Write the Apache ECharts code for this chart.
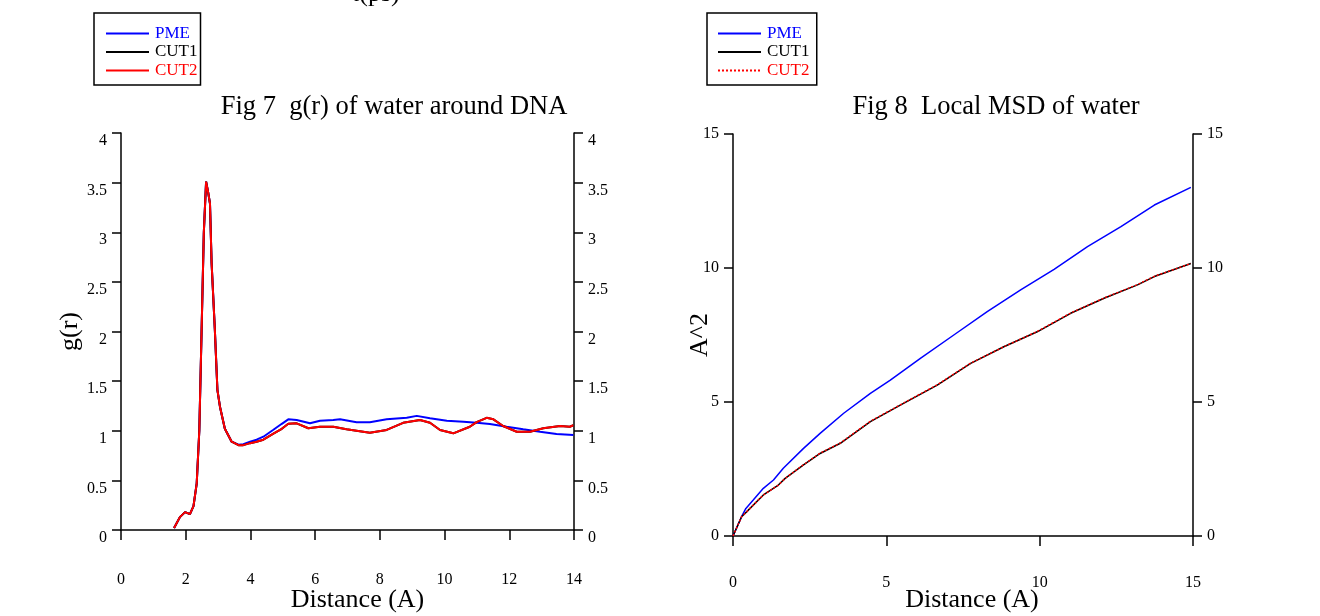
<!DOCTYPE html>
<html>
<head>
<meta charset="utf-8">
<script src="https://cdn.jsdelivr.net/npm/echarts@6/dist/echarts.min.js"></script>
<style>
html,body{margin:0;padding:0;background:#fff;}
#chart{width:1320px;height:616px;}
</style>
</head>
<body>
<div id="chart"></div>
<script>
// ---------- Fig 7 : g(r) of water around DNA ----------
const grPmeX  = [1.64,1.82,1.98,2.13,2.24,2.34,2.42,2.49,2.56,2.63,2.70,2.75,2.80,2.90,2.98,3.06,3.21,3.42,3.63,3.78,3.99,4.19,4.40,4.71,4.97,5.17,5.43,5.84,6.15,6.56,6.77,7.28,7.69,8.21,8.83,9.14,9.55,10.07,10.58,10.99,11.40,11.92,12.43,12.95,13.46,13.98];
const grPmeY  = [0.02,0.13,0.18,0.16,0.24,0.47,1.00,2.00,3.00,3.51,3.39,3.29,2.69,2.02,1.41,1.24,1.02,0.89,0.86,0.865,0.89,0.91,0.94,1.01,1.07,1.115,1.108,1.075,1.10,1.108,1.115,1.085,1.085,1.115,1.13,1.15,1.125,1.10,1.09,1.08,1.068,1.04,1.015,0.99,0.967,0.957];
const grCut1X = [1.64,1.82,1.98,2.13,2.24,2.34,2.42,2.49,2.56,2.63,2.70,2.75,2.80,2.90,2.98,3.06,3.21,3.42,3.63,3.78,3.99,4.19,4.40,4.71,4.97,5.17,5.43,5.79,6.15,6.56,6.97,7.69,8.21,8.72,9.24,9.55,9.86,10.27,10.78,10.99,11.30,11.51,11.81,12.23,12.64,13.05,13.57,13.87,13.98];
const grCut1Y = [0.02,0.13,0.18,0.16,0.24,0.47,1.00,2.00,3.00,3.51,3.39,3.29,2.69,2.02,1.41,1.24,1.02,0.89,0.855,0.855,0.875,0.89,0.91,0.97,1.02,1.07,1.075,1.025,1.04,1.04,1.015,0.98,1.008,1.08,1.108,1.08,1.008,0.974,1.04,1.087,1.13,1.115,1.048,0.99,0.99,1.025,1.048,1.04,1.055];
const grCut2X = [1.64,1.82,1.98,2.13,2.24,2.34,2.42,2.49,2.56,2.63,2.70,2.75,2.80,2.90,2.98,3.06,3.21,3.42,3.63,3.78,3.99,4.19,4.40,4.71,4.97,5.17,5.43,5.79,6.15,6.56,6.97,7.69,8.21,8.72,9.24,9.55,9.86,10.27,10.78,10.99,11.30,11.51,11.81,12.23,12.64,13.05,13.57,13.87,13.98];
const grCut2Y = [0.02,0.13,0.18,0.16,0.24,0.47,1.00,2.00,3.00,3.51,3.39,3.29,2.69,2.02,1.41,1.24,1.02,0.89,0.855,0.855,0.875,0.89,0.91,0.97,1.02,1.07,1.075,1.025,1.04,1.04,1.015,0.98,1.008,1.08,1.108,1.08,1.008,0.974,1.04,1.087,1.13,1.115,1.048,0.99,0.99,1.025,1.048,1.04,1.055];

// ---------- Fig 8 : Local MSD of water ----------
const msdPmeX  = [0,0.28,0.42,0.66,0.99,1.32,1.64,2.30,2.84,3.61,4.48,5.13,6.11,7.20,8.29,9.38,10.47,11.56,12.65,13.74,14.93];
const msdPmeY  = [0,0.72,1.03,1.34,1.78,2.09,2.53,3.27,3.83,4.58,5.32,5.82,6.63,7.50,8.37,9.18,9.95,10.80,11.54,12.35,13.01];
const msdCut1X = [0,0.28,0.45,0.99,1.48,1.70,2.30,2.84,3.50,4.48,5.56,6.66,7.75,8.83,9.92,11.01,12.10,13.19,13.74,14.93];
const msdCut1Y = [0,0.72,0.91,1.53,1.90,2.15,2.65,3.08,3.46,4.27,4.95,5.63,6.44,7.06,7.62,8.31,8.87,9.37,9.68,10.17];
const msdCut2X = [0,0.28,0.45,0.99,1.48,1.70,2.30,2.84,3.50,4.48,5.56,6.66,7.75,8.83,9.92,11.01,12.10,13.19,13.74,14.93];
const msdCut2Y = [0,0.72,0.91,1.53,1.90,2.15,2.66,3.09,3.47,4.28,4.96,5.64,6.45,7.06,7.63,8.32,8.88,9.38,9.69,10.17];

// tick settings
const grXTicks  = {min:0, max:14, interval:2};
const grYTicks  = {min:0, max:4, interval:0.5};
const msdXTicks = {min:0, max:15, interval:5};
const msdYTicks = {min:0, max:15, interval:5};

const zip = (xs, ys) => xs.map((x, i) => [x, ys[i]]);
const FONT = 'Liberation Serif';

const chart = echarts.init(document.getElementById('chart'), null, {renderer:'canvas'});

function xAxisCfg(grid, t, name, gap, margin, nameShift){
  return {
    type:'value', gridIndex:grid, min:t.min, max:t.max, interval:t.interval,
    name:name, nameLocation:'middle', nameGap:gap, nameMoveOverlap:false,
    nameTextStyle:{fontFamily:FONT, fontSize:26, color:'#000', padding:[0,0,0,nameShift]},
    axisLine:{show:true, onZero:false, lineStyle:{color:'#000', width:1.5}},
    axisTick:{show:true, inside:false, length:10, lineStyle:{color:'#000', width:1.5}},
    axisLabel:{fontFamily:FONT, fontSize:16, color:'#000', margin:margin},
    splitLine:{show:false}
  };
}
function yAxisCfg(grid, t, pos, name, gap, vAlign){
  return {
    type:'value', gridIndex:grid, position:pos, min:t.min, max:t.max, interval:t.interval,
    name:name, nameLocation:'middle', nameGap:gap, nameRotate:90, nameMoveOverlap:false,
    nameTextStyle:{fontFamily:FONT, fontSize:26, color:'#000'},
    axisLine:{show:true, onZero:false, lineStyle:{color:'#000', width:1.5}},
    axisTick:{show:true, inside:false, length:9, lineStyle:{color:'#000', width:1.5}},
    axisLabel:{fontFamily:FONT, fontSize:16, color:'#000', margin:14, verticalAlign:vAlign},
    splitLine:{show:false}
  };
}
function legendCfg(left, names, iw, padL){
  return {
    orient:'vertical', left:left, top:13, padding:[12,3,6,padL], itemGap:1.5,
    itemWidth:iw, itemHeight:16,
    borderColor:'#000', borderWidth:1.5, backgroundColor:'#fff',
    itemStyle:{opacity:0},
    textStyle:{fontFamily:FONT, fontSize:17, padding:[0,0,0,1]},
    data:[
      {name:names[0], textStyle:{color:'#0000ff'}},
      {name:names[1], textStyle:{color:'#000000'}},
      {name:names[2], textStyle:{color:'#ff0000'}}
    ]
  };
}

const option = {
  backgroundColor:'#fff',
  animation:false,
  title:[
    {text:'Fig 7  g(r) of water around DNA', left:389, top:89, textAlign:'center',
     textStyle:{fontFamily:FONT, fontSize:26.5, fontWeight:'normal', color:'#000'}},
    {text:'Fig 8  Local MSD of water', left:991, top:89, textAlign:'center',
     textStyle:{fontFamily:FONT, fontSize:26.5, fontWeight:'normal', color:'#000'}}
  ],
  legend:[
    legendCfg(94, ['PME','CUT1','CUT2'], 43, 11),
    legendCfg(707, ['PME ','CUT1 ','CUT2 '], 43, 10)
  ],
  grid:[
    {left:121, right:746, top:133, bottom:86, outerBoundsMode:'none', containLabel:false},
    {left:733, right:127, top:134, bottom:80, outerBoundsMode:'none', containLabel:false}
  ],
  xAxis:[
    xAxisCfg(0, grXTicks, 'Distance (A)', 57, 42, 20),
    xAxisCfg(1, msdXTicks, 'Distance (A)', 51, 39, 18)
  ],
  yAxis:[
    yAxisCfg(0, grYTicks, 'left', 'g(r)', 38, 'top'),
    yAxisCfg(0, grYTicks, 'right', '', 0, 'top'),
    yAxisCfg(1, msdYTicks, 'left', 'A^2', 20, 'middle'),
    yAxisCfg(1, msdYTicks, 'right', '', 0, 'middle')
  ],
  graphic:[
    {type:'text', left:352, top:-19, style:{text:'t(ps)', font:'26px "Liberation Serif"', fill:'#000'}}
  ],
  series:[
    {name:'PME', type:'line', xAxisIndex:0, yAxisIndex:0, data:zip(grPmeX, grPmeY), symbol:'none', lineStyle:{color:'#0000ff', width:2}, itemStyle:{color:'#0000ff'}, z:2},
    {name:'CUT1', type:'line', xAxisIndex:0, yAxisIndex:0, data:zip(grCut1X, grCut1Y), symbol:'none', lineStyle:{color:'#000000', width:2}, itemStyle:{color:'#000000'}, z:3},
    {name:'CUT2', type:'line', xAxisIndex:0, yAxisIndex:0, data:zip(grCut2X, grCut2Y), symbol:'none', lineStyle:{color:'#ff0000', width:2}, itemStyle:{color:'#ff0000'}, z:4},
    {name:'PME ', type:'line', xAxisIndex:1, yAxisIndex:2, data:zip(msdPmeX, msdPmeY), symbol:'none', lineStyle:{color:'#0000ff', width:1.5}, itemStyle:{color:'#0000ff'}, z:2},
    {name:'CUT1 ', type:'line', xAxisIndex:1, yAxisIndex:2, data:zip(msdCut1X, msdCut1Y), symbol:'none', lineStyle:{color:'#000000', width:1.5}, itemStyle:{color:'#000000'}, z:3},
    {name:'CUT2 ', type:'line', xAxisIndex:1, yAxisIndex:2, data:zip(msdCut2X, msdCut2Y), symbol:'none', lineStyle:{color:'#ff0000', width:1.5, type:[2,2]}, itemStyle:{color:'#ff0000'}, z:4}
  ]
};
chart.setOption(option);
</script>
</body>
</html>
